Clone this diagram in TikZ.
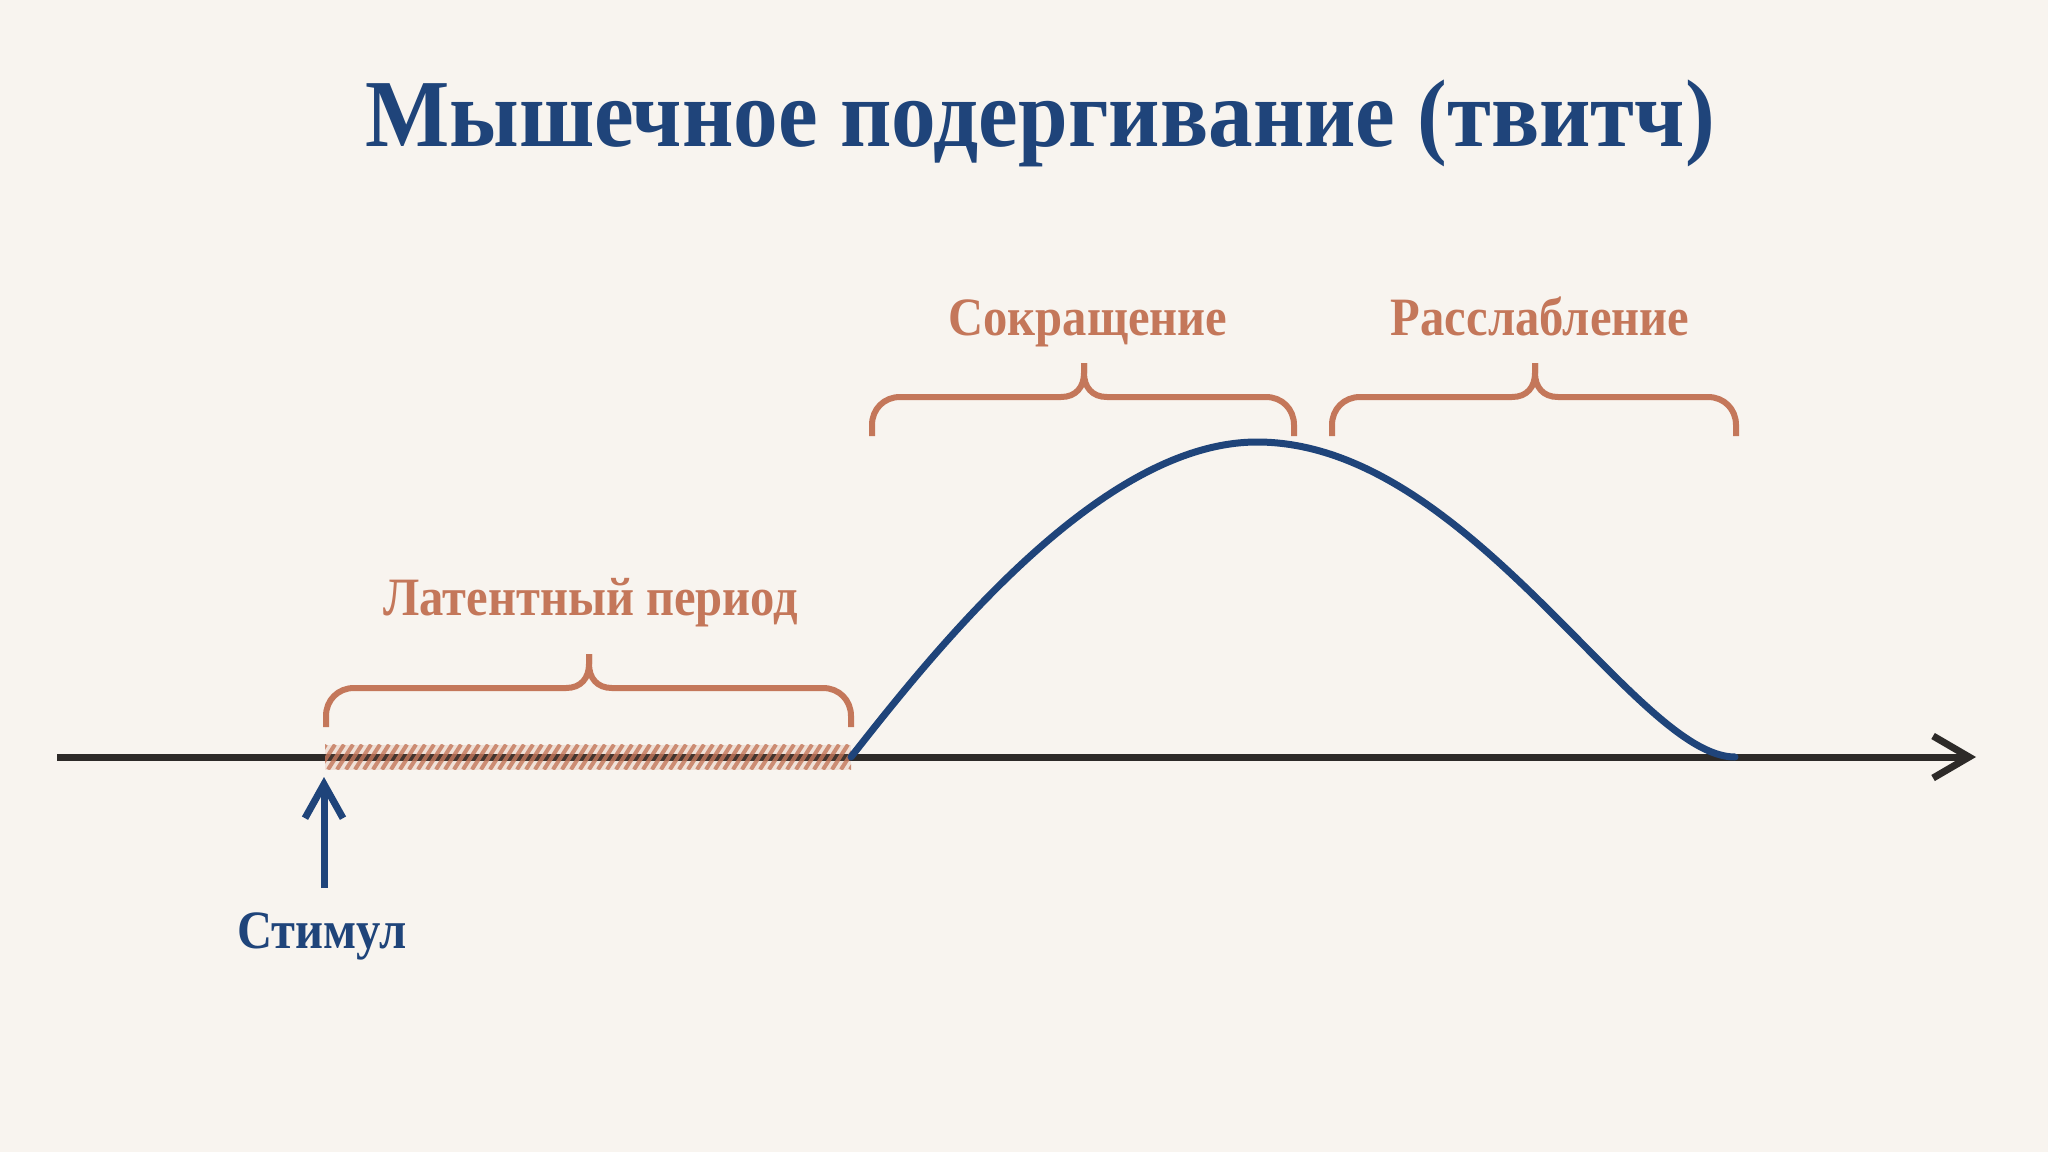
\documentclass[tikz,border=0pt]{standalone}
\usepackage{fontspec}
\setmainfont{Liberation Serif}
\newfontfamily\titlefont{Liberation Serif}[FakeStretch=0.93]
\newfontfamily\labelfont{Liberation Serif}[FakeStretch=0.9]
\usetikzlibrary{arrows.meta}
\definecolor{bg}{HTML}{F8F4EF}
\definecolor{navy}{HTML}{1F447A}
\definecolor{terra}{HTML}{C4775A}
\definecolor{ink}{HTML}{2D2A28}
\newcommand\cbrace[4]{%
  \draw[bracestyle] (#1,#4+39) -- (#1,#4+28) .. controls (#1,#4+12) and (#1+12,#4) .. (#1+28,#4)
     -- (#2-23,#4) .. controls (#2-8,#4) and (#2,#4-10) .. (#2,#4-24) -- (#2,#4-34);
  \draw[bracestyle] (#3,#4+39) -- (#3,#4+28) .. controls (#3,#4+12) and (#3-12,#4) .. (#3-28,#4)
     -- (#2+23,#4) .. controls (#2+8,#4) and (#2,#4-10) .. (#2,#4-24) -- (#2,#4-34);
}
\tikzset{
  bracestyle/.style={draw=terra, line width=6pt, line cap=butt, line join=round},
  axisline/.style={draw=ink, line width=7pt, -{Straight Barb[length=36pt,width=42pt]}},
  stimline/.style={draw=navy, line width=7pt, -{Straight Barb[length=34pt,width=38pt]}},
  twitch/.style={draw=navy, line width=7pt, line cap=round},
  titletext/.style={anchor=base, inner sep=0pt, text=navy, font=\titlefont\fontsize{96}{110}\selectfont\bfseries},
  phaselabel/.style={anchor=base, inner sep=0pt, text=terra, font=\labelfont\fontsize{54}{62}\selectfont\bfseries},
  stimlabel/.style={anchor=base, inner sep=0pt, text=navy, font=\labelfont\fontsize{54}{62}\selectfont\bfseries},
  hatchbox/.style={inner sep=0pt, outer sep=0pt, minimum width=526pt, minimum height=25pt,
    fill=terra, fill opacity=0.15,
    path picture={
      \foreach \i in {-24,-15,...,540}{
        \draw[terra, draw opacity=0.8, line width=4pt]
          ([xshift=\i pt]path picture bounding box.south west) -- ++(16pt,25pt);
      }
    }},
}
\begin{document}
\begin{tikzpicture}[x=1pt,y=-1pt]
  \fill[bg] (0,0) rectangle (2048,1152);
  \useasboundingbox (0,0) rectangle (2048,1152);

  % title
  \node[titletext] (title) at (1040,146) {Мышечное подергивание (твитч)};

  % axis
  \coordinate (axL) at (57,757);
  \coordinate (axR) at (1976,757);
  \draw[axisline] (axL) -- (axR);

  % latent period hatch
  \node[hatchbox] (lat) at (588,757) {};

  % twitch curve
  \coordinate (peak) at (1257,442);
  \coordinate (cend) at (1735,757);
  \draw[twitch] (lat.east) .. controls (935,650) and (1100,442) .. (peak)
                .. controls (1469,442) and (1635,757) .. (cend);

  % braces
  \cbrace{326}{589}{851}{688}
  \cbrace{872}{1084}{1294}{397}
  \cbrace{1332}{1535}{1736}{397}

  % labels
  \node[phaselabel] (lblL) at (591,615) {Латентный период};
  \node[phaselabel] (lblC) at (1088,335) {Сокращение};
  \node[phaselabel] (lblR) at (1540,335) {Расслабление};

  % stimulus
  \node[stimlabel] (lblS) at (322,948) {Стимул};
  \coordinate (stimbase) at (324,888);
  \coordinate (stimtip) at (324,777);
  \draw[stimline] (stimbase) -- (stimtip);
\end{tikzpicture}
\end{document}
